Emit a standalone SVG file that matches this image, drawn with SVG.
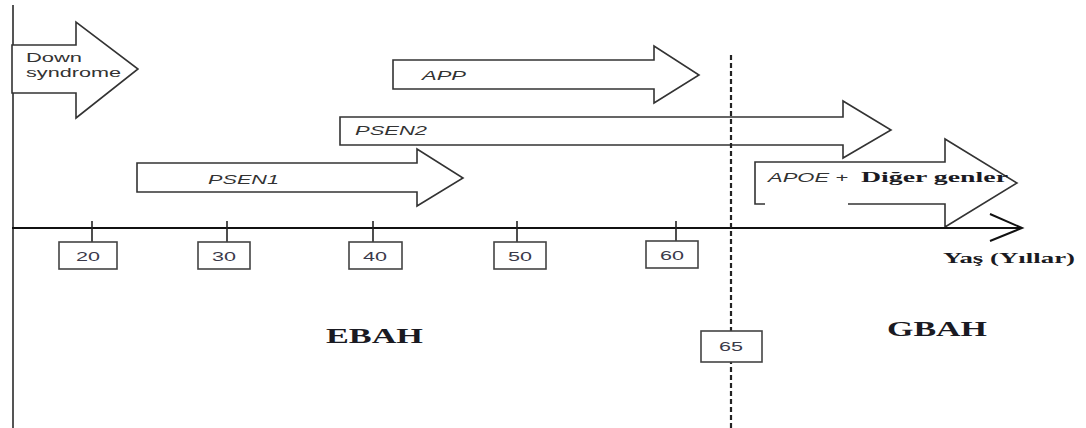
<svg xmlns="http://www.w3.org/2000/svg" width="1086" height="428" viewBox="0 0 1086 428">
<style>
.arrow{fill:#fff;stroke:#333;stroke-width:1.6;stroke-linejoin:miter}
.lbl{font-family:"Liberation Sans",Arial,sans-serif;font-size:12px;fill:#333}
.it{font-style:italic}
.num{font-family:"Liberation Sans",Arial,sans-serif;font-size:12px;fill:#3a3a4a;text-anchor:middle}
.box{fill:#fff;stroke:#444;stroke-width:1.6}
.tick{stroke:#222;stroke-width:1.6}
.bold{font-family:"Liberation Serif","Times New Roman",serif;font-weight:bold;fill:#1a1a22}
</style>
<rect width="1086" height="428" fill="#fff"/>
<g id="connectors">
  <line x1="13" y1="5" x2="13" y2="428" stroke="#555" stroke-width="2"/>
</g>
<g id="down-syndrome">
  <polygon class="arrow" points="12,45 76,45 76,22 138,69 76,118 76,93 12,93"/>
  <text class="lbl" x="26" y="62" textLength="56" lengthAdjust="spacingAndGlyphs">Down</text>
  <text class="lbl" x="26" y="77" textLength="95" lengthAdjust="spacingAndGlyphs">syndrome</text>
</g>
<g id="app">
  <polygon class="arrow" points="393,60 654,60 654,46 699,75 654,103 654,89 393,89"/>
  <text class="lbl it" x="422" y="80" textLength="44" lengthAdjust="spacingAndGlyphs">APP</text>
</g>
<g id="psen2">
  <polygon class="arrow" points="340,117 843,117 843,101 891,130 843,158 843,145 340,145"/>
  <text class="lbl it" x="355" y="135" textLength="72" lengthAdjust="spacingAndGlyphs">PSEN2</text>
</g>
<g id="psen1">
  <polygon class="arrow" points="137,163 417,163 417,149 463,178 417,206 417,192 137,192"/>
  <text class="lbl it" x="208" y="184" textLength="71" lengthAdjust="spacingAndGlyphs">PSEN1</text>
</g>
<g id="apoe">
  <polygon class="arrow" points="755,162 945,162 945,139 1017,183 945,227 945,204 755,204"/>
  <rect x="765" y="201" width="83" height="6" fill="#fff"/>
  <text class="lbl it" x="768" y="182" textLength="80" lengthAdjust="spacingAndGlyphs">APOE +</text>
  <text class="bold" x="861" y="182" font-size="15" textLength="147" lengthAdjust="spacingAndGlyphs">Diğer genler</text>
</g>
<g id="axis">
  <line x1="12" y1="228" x2="1022" y2="228" stroke="#111" stroke-width="2"/>
  <polyline points="990,214 1022,228 990,241" fill="none" stroke="#111" stroke-width="2"/>
  <text class="bold" x="943" y="263" font-size="15" textLength="132" lengthAdjust="spacingAndGlyphs">Yaş (Yıllar)</text>
</g>
<g id="age-20">
  <line class="tick" x1="92" y1="221" x2="92" y2="242"/>
  <rect class="box" x="59" y="242" width="58" height="27"/>
  <text class="num" x="88" y="261" textLength="24" lengthAdjust="spacingAndGlyphs">20</text>
</g>
<g id="age-30">
  <line class="tick" x1="227" y1="221" x2="227" y2="242"/>
  <rect class="box" x="198" y="242" width="52" height="27"/>
  <text class="num" x="224" y="261" textLength="24" lengthAdjust="spacingAndGlyphs">30</text>
</g>
<g id="age-40">
  <line class="tick" x1="373" y1="221" x2="373" y2="242"/>
  <rect class="box" x="349" y="242" width="53" height="27"/>
  <text class="num" x="375" y="261" textLength="24" lengthAdjust="spacingAndGlyphs">40</text>
</g>
<g id="age-50">
  <line class="tick" x1="517" y1="221" x2="517" y2="242"/>
  <rect class="box" x="494" y="242" width="52" height="27"/>
  <text class="num" x="520" y="261" textLength="24" lengthAdjust="spacingAndGlyphs">50</text>
</g>
<g id="age-60">
  <line class="tick" x1="676" y1="221" x2="676" y2="241"/>
  <rect class="box" x="646" y="241" width="52" height="27"/>
  <text class="num" x="672" y="260" textLength="24" lengthAdjust="spacingAndGlyphs">60</text>
</g>
<g id="divider-65">
  <line x1="731" y1="55" x2="731" y2="428" stroke="#222" stroke-width="2.2" stroke-dasharray="5,3"/>
  <rect class="box" x="701" y="331" width="61" height="31"/>
  <text class="num" x="731" y="351" textLength="24" lengthAdjust="spacingAndGlyphs">65</text>
</g>
<g id="ebah">
  <text class="bold" x="326" y="343" font-size="21" textLength="97" lengthAdjust="spacingAndGlyphs">EBAH</text>
</g>
<g id="gbah">
  <text class="bold" x="887" y="336" font-size="21" textLength="100" lengthAdjust="spacingAndGlyphs">GBAH</text>
</g>
</svg>
